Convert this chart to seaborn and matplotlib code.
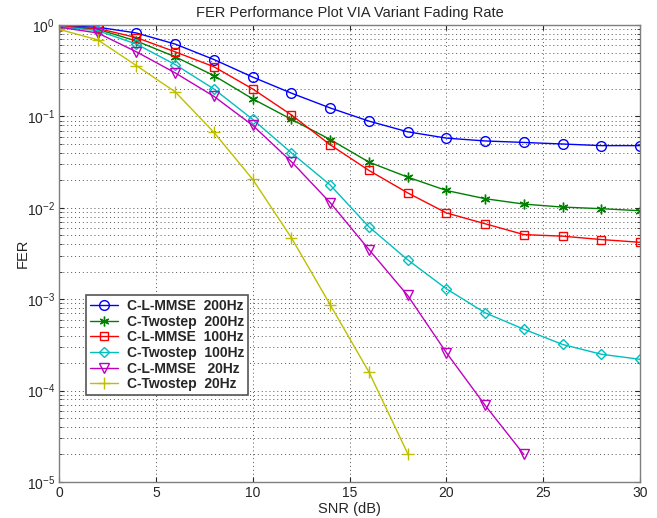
import numpy as np
import pandas as pd
import seaborn as sns
import matplotlib.pyplot as plt

# SNR points (dB)
snr = [0, 2, 4, 6, 8, 10, 12, 14, 16, 18, 20, 22, 24, 26, 28, 30]

# FER curves
fer_lmmse_200 = [0.98, 0.95, 0.82, 0.62, 0.42, 0.27, 0.18, 0.124, 0.089, 0.068,
                 0.058, 0.054, 0.052, 0.050, 0.048, 0.048]
fer_two_200 = [0.97, 0.90, 0.67, 0.45, 0.28, 0.156, 0.093, 0.056, 0.0317, 0.0217,
               0.0155, 0.0126, 0.011, 0.0102, 0.0098, 0.0093]
fer_lmmse_100 = [0.97, 0.92, 0.73, 0.51, 0.35, 0.20, 0.104, 0.049, 0.0257, 0.0146,
                 0.0088, 0.0067, 0.0051, 0.0049, 0.0045, 0.0042]
fer_two_100 = [0.96, 0.87, 0.62, 0.37, 0.20, 0.093, 0.040, 0.0178, 0.0062, 0.0027,
               0.0013, 0.00071, 0.00047, 0.00032, 0.00025, 0.00022]
fer_lmmse_20 = [0.95, 0.82, 0.51, 0.30, 0.166, 0.080, 0.032, 0.0114, 0.0035, 0.0011,
                0.00026, 0.000069, 0.00002]
fer_two_20 = [0.90, 0.69, 0.36, 0.186, 0.067, 0.0205, 0.0047, 0.00087, 0.00016, 0.0000205]

labels = ['C-L-MMSE  200Hz', 'C-Twostep  200Hz', 'C-L-MMSE  100Hz',
          'C-Twostep  100Hz', 'C-L-MMSE   20Hz', 'C-Twostep  20Hz']
series = [fer_lmmse_200, fer_two_200, fer_lmmse_100, fer_two_100, fer_lmmse_20, fer_two_20]
colors = ['#0000ff', '#007f00', '#ff0000', '#00bfbf', '#bf00bf', '#bfbf00']
markers = ['o', (6, 2, 0), 's', 'D', 'v', '+']
msizes = [7, 7, 6, 5.5, 7, 8]

sns.set_style('ticks')
plt.rcParams['font.family'] = ['Liberation Sans', 'DejaVu Sans']

fig = plt.figure(figsize=(6.57, 5.18), dpi=100)
ax = fig.add_axes([0.0898, 0.0695, 0.8845, 0.882])

for lab, vals, c, m, ms in zip(labels, series, colors, markers, msizes):
    d = pd.DataFrame({'snr': snr[:len(vals)], 'fer': vals})
    sns.lineplot(data=d, x='snr', y='fer', ax=ax, color=c, marker=m, markersize=ms,
                 markerfacecolor='none', markeredgecolor=c, markeredgewidth=1.0,
                 linewidth=1.0, label=lab)

ax.set_yscale('log')
ax.set_xlim(0, 30)
ax.set_ylim(1e-5, 1)
ax.set_xticks([0, 5, 10, 15, 20, 25, 30])
ax.grid(True, which='major', linestyle=(0, (1, 3)), color='#555555', linewidth=0.7)
ax.grid(True, which='minor', axis='y', linestyle=(0, (1, 3)), color='#555555', linewidth=0.7)
ax.tick_params(which='both', direction='in', top=True, right=True, labelsize=10, pad=3)
for s in ax.spines.values():
    s.set_color('#7f7f7f')
    s.set_linewidth(1.0)

ax.set_title('FER Performance Plot VIA Variant Fading Rate', fontsize=10.5)
ax.set_xlabel('SNR (dB)', fontsize=10.5, labelpad=1)
ax.set_ylabel('FER', fontsize=10.5, labelpad=-2)

leg = ax.legend(loc='upper left', bbox_to_anchor=(0.035, 0.425), fancybox=False,
                framealpha=1, edgecolor='#555555', borderpad=0.3, labelspacing=0.12,
                handlelength=2.0, handletextpad=0.6, prop={'weight': 'bold', 'size': 10})
leg.get_frame().set_linewidth(1.2)

fig.savefig('out.png', dpi=100)
